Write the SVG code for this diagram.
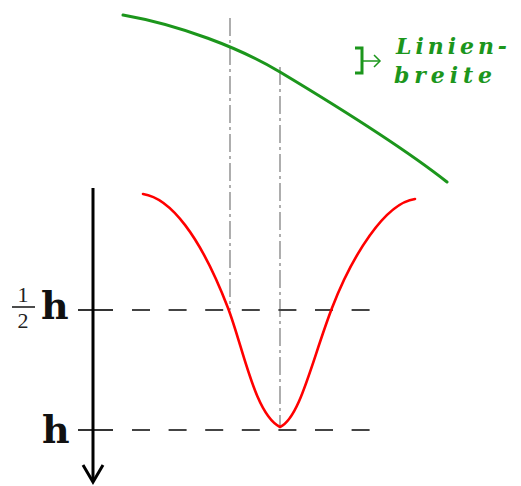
<svg xmlns="http://www.w3.org/2000/svg" width="521" height="486" viewBox="0 0 521 486">
<style>
.dd{stroke:#9a9a9a;stroke-width:1.6;fill:none;stroke-dasharray:18 4 3 4}
.dash{stroke:#444;stroke-width:2;fill:none;stroke-dasharray:18 18.6}
.tick{stroke:#333;stroke-width:2;fill:none}
.green{stroke:#1c961c;stroke-width:3;fill:none;stroke-linecap:round}
.red{stroke:#ff0000;stroke-width:2.6;fill:none;stroke-linejoin:round;stroke-linecap:round}
.lbl{font-family:"DejaVu Serif",serif;font-weight:bold;font-size:38px;fill:#111}
.frac{font-family:"Liberation Serif",serif;font-size:22px;fill:#222}
.gt{font-family:"DejaVu Serif",serif;font-style:italic;font-weight:bold;font-size:22px;fill:#1c961c}
</style>
<g id="connectors">
<polyline class="dd" points="230,18 230,310"/>
<polyline class="dd" points="280,67 280,428"/>
<line class="tick" x1="78" y1="310" x2="113" y2="310"/>
<line class="dash" x1="132" y1="310" x2="372" y2="310"/>
<line class="tick" x1="78" y1="430" x2="113" y2="430"/>
<line class="dash" x1="132" y1="430" x2="372" y2="430"/>
<g id="axis">
<line x1="93" y1="188" x2="93" y2="481" stroke="#000" stroke-width="3"/>
<polyline points="83,465 93,482 103,465" stroke="#000" stroke-width="3" fill="none"/>
</g>
</g>
<g id="green-curve">
<path class="green" d="M123,15 C180,25 240,48 280,72 C320,96 400,145 447,182"/>
</g>
<g id="red-curve">
<path class="red" d="M143,194 C170,198 200,235 228,308 C243,347 255,415 280,427 C300,418 312,360 332,308 C352,256 385,203 415,199"/>
</g>
<g id="label-half">
<text class="frac" x="23" y="302" text-anchor="middle">1</text>
<line x1="12" y1="307" x2="35" y2="307" stroke="#111" stroke-width="1.5"/>
<text class="frac" x="23" y="328" text-anchor="middle">2</text>
<text class="lbl" x="41" y="319">h</text>
</g>
<g id="label-h">
<text class="lbl" x="42" y="443">h</text>
</g>
<g id="linienbreite">
<polyline points="355,48 362,48 362,73 355,73" stroke="#1c961c" stroke-width="3" fill="none"/>
<line x1="362" y1="61" x2="380" y2="61" stroke="#1c961c" stroke-width="1.5"/>
<polyline points="374,55 380,61 374,67" stroke="#1c961c" stroke-width="1.5" fill="none"/>
<text class="gt" x="396" y="54" textLength="111" lengthAdjust="spacing">Linien-</text>
<text class="gt" x="394" y="83" textLength="98" lengthAdjust="spacing">breite</text>
</g>
</svg>
